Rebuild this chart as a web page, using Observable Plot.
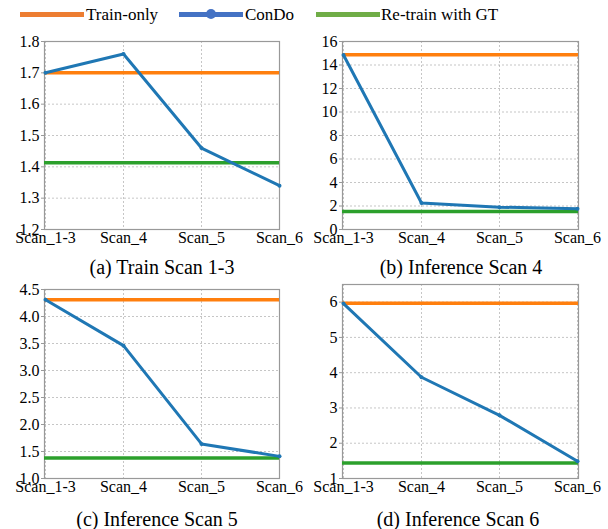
<!DOCTYPE html>
<html><head><meta charset="utf-8">
<style>
body{margin:0;background:#fff;font-family:'Liberation Serif',serif;}
#root{position:relative;width:608px;height:529px;font-family:'Liberation Serif',serif;color:#000;overflow:hidden}
#root svg, #root svg text{font-family:'Liberation Serif',serif !important}
.abs{position:absolute}
.title{position:absolute;font-size:20px;transform:translate(-50%,-50%);white-space:nowrap;line-height:1;font-family:'Liberation Serif',serif}
.lg-line{position:absolute;height:5px}
.lg-text{position:absolute;font-size:17px;line-height:1;transform:translateY(-50%);white-space:nowrap;font-family:'Liberation Serif',serif}
.lg-dot{position:absolute;width:10px;height:10px;border-radius:50%}
</style>
<script src="https://cdn.jsdelivr.net/npm/d3@7"></script>
<script src="https://cdn.jsdelivr.net/npm/@observablehq/plot@0.6"></script>
</head><body><div id="root"></div>
<script>
const categories = ["Scan_1-3", "Scan_4", "Scan_5", "Scan_6"];
const seriesNames = ["Train-only", "ConDo", "Re-train with GT"];
const panelTitles = ["(a) Train Scan 1-3", "(b) Inference Scan 4", "(c) Inference Scan 5", "(d) Inference Scan 6"];

const condoA = [1.70, 1.76, 1.46, 1.34];
const condoB = [14.85, 2.25, 1.9, 1.76];
const condoC = [4.31, 3.46, 1.64, 1.41];
const condoD = [5.96, 3.87, 2.79, 1.49];

const trainOnly = [1.70, 14.88, 4.31, 5.97];
const retrainGT = [1.413, 1.53, 1.38, 1.44];

const yDomainA = [1.2, 1.8], yTicksA = [1.2, 1.3, 1.4, 1.5, 1.6, 1.7, 1.8];
const yDomainB = [0, 16],    yTicksB = [0, 2, 4, 6, 8, 10, 12, 14, 16];
const yDomainC = [1, 4.5],   yTicksC = [1.0, 1.5, 2.0, 2.5, 3.0, 3.5, 4.0, 4.5];
const yDomainD = [1, 6.5],   yTicksD = [1, 2, 3, 4, 5, 6];

const colTrain = "#ff7f0e", colCondo = "#1f77b4", colGT = "#2ca02c";
const lgTrain = "#ed7d31", lgCondo = "#4472c4", lgGT = "#70ad47";

const root = document.getElementById("root");
const FONT = "Liberation Serif";

function panel(cfg) {
  const data = categories.map((c, i) => ({scan: c, v: cfg.condo[i]}));
  const p = Plot.plot({
    width: cfg.w, height: cfg.h,
    marginLeft: cfg.ml, marginRight: cfg.mr, marginTop: cfg.mt, marginBottom: cfg.mb,
    style: {fontFamily: FONT, fontSize: "16px", background: "transparent", overflow: "visible"},
    x: {type: "point", domain: categories, padding: 0, label: null},
    y: {domain: cfg.domain, label: null},
    marks: [
      Plot.gridY(cfg.ticks, {stroke: "#999", strokeOpacity: 0.7, strokeDasharray: "2,2", strokeWidth: 0.8}),
      Plot.gridX(categories, {stroke: "#999", strokeOpacity: 0.7, strokeDasharray: "2,2", strokeWidth: 0.8}),
      Plot.frame({stroke: "#999", strokeWidth: 1.2}),
      Plot.axisY(cfg.ticks, {label: null, tickSize: 3, tickPadding: 2, stroke: "#999", tickFormat: cfg.fmt, fill: "#000", fontSize: 16}),
      Plot.axisX(categories, {label: null, tickSize: 0, tickPadding: 2, fill: "#000", fontSize: 16}),
      Plot.ruleY([cfg.train], {stroke: colTrain, strokeWidth: 3.5}),
      Plot.ruleY([cfg.gt], {stroke: colGT, strokeWidth: 3.5}),
      Plot.line(data, {x: "scan", y: "v", stroke: colCondo, strokeWidth: 3}),
      Plot.dot(data, {x: "scan", y: "v", r: 2, fill: colCondo})
    ]
  });
  p.classList.add("abs");
  p.style.left = cfg.left + "px";
  p.style.top = cfg.top + "px";
  p.setAttribute("font-family", FONT);
  p.querySelectorAll("text").forEach(t => t.style.fontFamily = "'Liberation Serif'");
  root.appendChild(p);
}

panel({left: 0, top: 30, w: 300, h: 220, ml: 44, mr: 21, mt: 11, mb: 21,
  domain: yDomainA, ticks: yTicksA, fmt: d3.format(".1f"), condo: condoA, train: trainOnly[0], gt: retrainGT[0]});
panel({left: 300, top: 30, w: 308, h: 220, ml: 42, mr: 30, mt: 11, mb: 21,
  domain: yDomainB, ticks: yTicksB, fmt: d3.format("d"), condo: condoB, train: trainOnly[1], gt: retrainGT[1]});
panel({left: 0, top: 270, w: 300, h: 230, ml: 44, mr: 21, mt: 19, mb: 22,
  domain: yDomainC, ticks: yTicksC, fmt: d3.format(".1f"), condo: condoC, train: trainOnly[2], gt: retrainGT[2]});
panel({left: 300, top: 270, w: 308, h: 230, ml: 42, mr: 30, mt: 14, mb: 22,
  domain: yDomainD, ticks: yTicksD, fmt: d3.format("d"), condo: condoD, train: trainOnly[3], gt: retrainGT[3]});

// titles
const titlePos = [[162, 266.5], [461, 266.5], [157, 518.5], [458, 518.5]];
panelTitles.forEach((t, i) => {
  const d = document.createElement("div");
  d.className = "title";
  d.textContent = t;
  d.style.fontFamily = "'Liberation Serif'";
  d.style.left = titlePos[i][0] + "px";
  d.style.top = titlePos[i][1] + "px";
  root.appendChild(d);
});

// legend
const lgItems = [
  {name: seriesNames[0], color: lgTrain, x0: 20, x1: 84, tx: 86, dot: false},
  {name: seriesNames[1], color: lgCondo, x0: 179, x1: 243, tx: 245, dot: true},
  {name: seriesNames[2], color: lgGT, x0: 316, x1: 380, tx: 381, dot: false}
];
lgItems.forEach(it => {
  const l = document.createElement("div");
  l.className = "lg-line";
  l.style.left = it.x0 + "px"; l.style.width = (it.x1 - it.x0) + "px";
  l.style.top = "11.5px"; l.style.background = it.color;
  root.appendChild(l);
  if (it.dot) {
    const c = document.createElement("div");
    c.className = "lg-dot";
    c.style.left = ((it.x0 + it.x1) / 2 - 5) + "px"; c.style.top = "9px"; c.style.background = it.color;
    root.appendChild(c);
  }
  const t = document.createElement("div");
  t.className = "lg-text";
  t.textContent = it.name;
  t.style.fontFamily = "'Liberation Serif'";
  t.style.left = it.tx + "px"; t.style.top = "14px";
  root.appendChild(t);
});
</script></body></html>
